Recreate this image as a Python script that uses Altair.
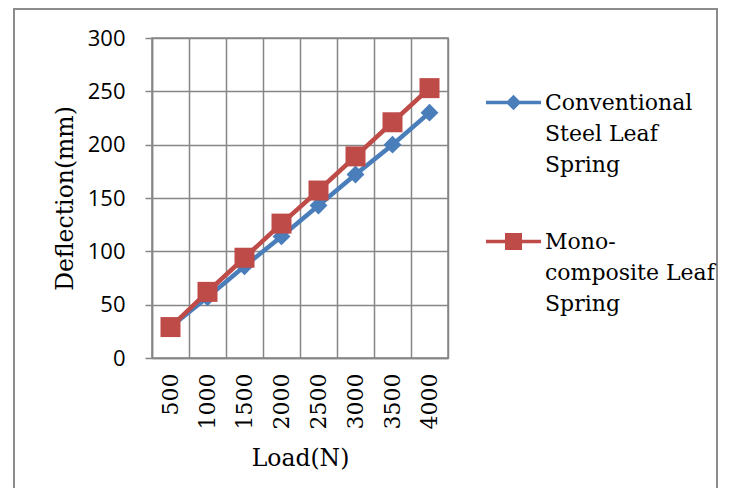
import altair as alt
import pandas as pd

loads = ["500", "1000", "1500", "2000", "2500", "3000", "3500", "4000"]
steel = [29, 57, 86, 114, 143, 172, 200, 230]
mono = [29, 62, 94, 126, 157, 189, 221, 253]
series_names = ["Conventional Steel Leaf Spring", "Mono-composite Leaf Spring"]
colors = ["#4a7ebb", "#be4b48"]

rows = []
for s, vals in zip(series_names, [steel, mono]):
    for l, v in zip(loads, vals):
        rows.append({"load": l, "deflection": v, "series": s})
df = pd.DataFrame(rows)

LINE = "M-1,-0.065L1,-0.065L1,0.065L-1,0.065Z"
DIAMOND = LINE + "M0,-0.28L0.28,0L0,0.28L-0.28,0Z"
SQUARE = LINE + "M-0.31,-0.31L0.31,-0.31L0.31,0.31L-0.31,0.31Z"

x_enc = alt.X("load:N", sort=loads, title="Load(N)",
              scale=alt.Scale(paddingInner=0, paddingOuter=0),
              axis=alt.Axis(labelAngle=-90, tickBand="extent", ticks=False,
                            labelFont="DejaVu Serif", labelFontSize=22,
                            labelColor="#000", labelPadding=15,
                            titleFont="DejaVu Serif", titleFontSize=23.5,
                            titleFontWeight="normal", titleColor="#000",
                            titlePadding=18, grid=True))
y_enc = alt.Y("deflection:Q", title="Deflection(mm)",
              scale=alt.Scale(domain=[0, 300], nice=False),
              axis=alt.Axis(values=[0, 50, 100, 150, 200, 250, 300],
                            labelFont="Open Sans", labelFontSize=22,
                            labelColor="#000", labelPadding=20, tickSize=7,
                            titleFont="DejaVu Serif", titleFontSize=23.5,
                            titleFontWeight="normal", titleColor="#000",
                            titlePadding=10, grid=True))

base = alt.Chart(df)
layers = []
for s, shp, sz, col in zip(series_names, ["diamond", "square"], [320, 400], colors):
    sub = base.transform_filter(alt.datum.series == s)
    layers.append(sub.mark_line(strokeWidth=4.5, color=col).encode(x=x_enc, y=y_enc))
    layers.append(sub.mark_point(shape=shp, filled=True, size=sz, opacity=1, color=col).encode(
        x=x_enc, y=y_enc))

label_expr = ("datum.label == 'Conventional Steel Leaf Spring' ? "
              "['Conventional', 'Steel Leaf', 'Spring'] : "
              "['Mono-', 'composite Leaf', 'Spring']")
leg = alt.Legend(title=None, orient="none", legendX=334, legendY=37,
                 symbolSize=3025, symbolStrokeWidth=0, symbolOpacity=1,
                 labelFont="DejaVu Serif", labelFontSize=22,
                 labelColor="#000", labelLimit=300, labelOffset=4,
                 labelExpr=label_expr, rowPadding=38, padding=0)
legend_layer = base.mark_point(filled=True, opacity=0, strokeWidth=0).encode(
    x=x_enc, y=y_enc,
    color=alt.Color("series:N", scale=alt.Scale(domain=series_names, range=colors), legend=leg),
    shape=alt.Shape("series:N", scale=alt.Scale(domain=series_names, range=[DIAMOND, SQUARE]),
                    legend=leg),
)

border = alt.Chart(pd.DataFrame({"a": [0]})).mark_rect(
    filled=False, stroke="#8c8c8c", strokeWidth=2).encode(
    x=alt.value(-138), x2=alt.value(565), y=alt.value(-29), y2=alt.value(470))

chart = alt.layer(border, *layers, legend_layer).properties(
    width=296, height=320,
    autosize=alt.AutoSizeParams(type="none"),
    padding={"left": 144, "top": 30, "right": 270, "bottom": 130},
).configure(
    view=alt.ViewConfig(stroke="#868686", strokeWidth=1.5),
    axis=alt.AxisConfig(gridColor="#868686", gridWidth=1.5, gridOpacity=1,
                        domainColor="#868686", domainWidth=1.5,
                        tickColor="#868686", tickWidth=1.5),
    style={"guide-label": {"lineHeight": 31}},
)

chart.save("out.html", embed_options={"renderer": "svg", "actions": False})
